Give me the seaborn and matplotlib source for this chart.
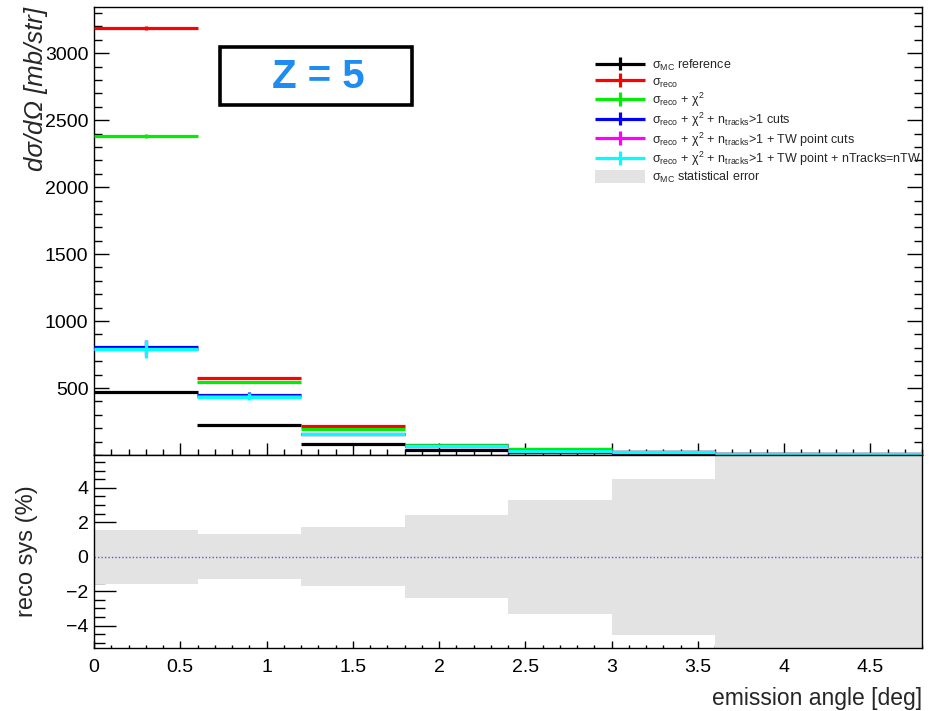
import numpy as np
import matplotlib
matplotlib.use("Agg")
import matplotlib.pyplot as plt
import seaborn as sns
from matplotlib.ticker import MultipleLocator, FixedLocator
from matplotlib.patches import Rectangle
from matplotlib.legend_handler import HandlerErrorbar
from matplotlib.container import ErrorbarContainer

# ---------------- data ----------------
bin_edges = [0.0, 0.6, 1.2, 1.8, 2.4, 3.0, 3.6, 4.2, 4.8]
ref_vals   = [470, 224, 82, 37, 20, 8, 4, 2]
ref_err    = [6, 4, 2, 1, 1, 1, 1, 1]
reco_vals  = [3190, 572, 214, 77, 45, 22, 10, 5]
reco_err   = [15, 8, 4, 2, 1, 1, 1, 1]
chi2_vals  = [2385, 542, 196, 77, 45, 22, 10, 5]
chi2_err   = [15, 8, 4, 2, 1, 1, 1, 1]
ntr_vals   = [806, 450, 157, 67, 30, 20, 10, 5]
ntr_err    = [45, 22, 6, 2, 1, 1, 1, 1]
tw_vals    = [795, 440, 157, 67, 30, 20, 10, 5]
tw_err     = [60, 25, 6, 2, 1, 1, 1, 1]
twn_vals   = [791, 435, 157, 67, 30, 20, 10, 5]
twn_err    = [65, 25, 6, 2, 1, 1, 1, 1]
stat_err_pct = [1.57, 1.32, 1.72, 2.40, 3.30, 4.52, 8.0, 8.0]

S = r"$\mathrm{\sigma}_{\rm reco}$"
C = r"$\mathrm{\chi}^{2}$"
labels = [
    r"$\mathrm{\sigma}_{\rm MC}$ reference",
    S,
    S + " + " + C,
    S + " + " + C + r" + n$_{\rm tracks}$>1 cuts",
    S + " + " + C + r" + n$_{\rm tracks}$>1 + TW point cuts",
    S + " + " + C + r" + n$_{\rm tracks}$>1 + TW point + nTracks=nTW",
]
stat_label = r"$\mathrm{\sigma}_{\rm MC}$ statistical error"
colors = ["#000000", "#ff0000", "#00ee00", "#0000ff", "#ff00ff", "#00ffff"]

# ---------------- style ----------------
sns.set_theme(style="ticks")
plt.rcParams["font.family"] = ["Liberation Sans", "DejaVu Sans"]
plt.rcParams["mathtext.fontset"] = "custom"
plt.rcParams["mathtext.rm"] = "Liberation Sans"
plt.rcParams["mathtext.it"] = "Liberation Sans:italic"
plt.rcParams["mathtext.bf"] = "Liberation Sans:bold"

W, H = 934, 711
fig = plt.figure(figsize=(W / 100, H / 100), dpi=100)
fig.patch.set_facecolor("white")

def fbox(x0, y0, x1, y1):
    return [x0 / W, 1 - y1 / H, (x1 - x0) / W, (y1 - y0) / H]

ax = fig.add_axes(fbox(94, 7, 922, 455))
axr = fig.add_axes(fbox(94, 455, 922, 648))
for a in (ax, axr):
    a.set_facecolor("white")
    for s in a.spines.values():
        s.set_color("black")
        s.set_linewidth(1.0)

edges = np.array(bin_edges)
centers = 0.5 * (edges[:-1] + edges[1:])
halfw = 0.5 * (edges[1:] - edges[:-1])

series = [
    (ref_vals, ref_err), (reco_vals, reco_err), (chi2_vals, chi2_err),
    (ntr_vals, ntr_err), (tw_vals, tw_err), (twn_vals, twn_err),
]
handles = []
for (vals, err), col, lab in zip(series, colors, labels):
    h = ax.errorbar(centers, vals, xerr=halfw, yerr=err, fmt="none",
                    ecolor=col, elinewidth=2.3, capsize=0, label=lab, zorder=3)
    handles.append(h)

stat_patch = Rectangle((0, 0), 1, 1, facecolor="#e3e3e3", edgecolor="none")
handles.append(stat_patch)

ax.set_xlim(0, 4.8)
ax.set_ylim(0, 3345)
ax.yaxis.set_major_locator(FixedLocator([500, 1000, 1500, 2000, 2500, 3000]))
ax.yaxis.set_minor_locator(MultipleLocator(100))
ax.xaxis.set_major_locator(MultipleLocator(0.5))
ax.xaxis.set_minor_locator(MultipleLocator(0.1))
ax.tick_params(axis="both", which="both", direction="in", colors="black")
ax.tick_params(axis="y", which="major", length=11, width=1, left=True, right=True, labelsize=14, pad=4)
ax.tick_params(axis="y", which="minor", length=6, width=1, left=True, right=True)
ax.tick_params(axis="x", which="major", length=9, width=1, labelbottom=False)
ax.tick_params(axis="x", which="minor", length=4.5, width=1)
ax.set_ylabel("dσ/dΩ [mb/str]", fontsize=18.5, fontstyle="italic", loc="top")
ax.yaxis.set_label_coords(-0.056, 1.0)

hmap = {ErrorbarContainer: HandlerErrorbar(xerr_size=2.0, yerr_size=0.55)}
leg = ax.legend(handles, labels + [stat_label], loc="upper left",
                bbox_to_anchor=((595 - 94) / 828, 1 - (58 - 7) / 448),
                frameon=False, fontsize=9, handlelength=4.0, handletextpad=0.55,
                handleheight=1.25, labelspacing=0.12, borderpad=0,
                borderaxespad=0, handler_map=hmap)
for t in leg.get_texts():
    t.set_clip_on(True)
    t.set_clip_box(ax.bbox)

# Z label box
fig.patches.append(Rectangle((220 / W, 1 - 105 / H), 192 / W, 58 / H,
                             transform=fig.transFigure, fill=False,
                             edgecolor="black", linewidth=2.6))
fig.text(318 / W, 1 - 77 / H, "Z = 5", color="#1e8cf0", fontsize=29,
         fontweight="bold", ha="center", va="center")

# ---------------- ratio panel ----------------
err = np.array(stat_err_pct)
x_step = np.repeat(edges, 2)[1:-1]
up = np.repeat(err, 2)
axr.fill_between(x_step, -up, up, color="#e3e3e3", linewidth=0, zorder=1)
sns.lineplot(x=[0, 4.8], y=[0, 0], ax=axr, color="#5a5ad0", linestyle=(0, (1, 1.5)),
             linewidth=1.0, zorder=2)

axr.set_xlim(0, 4.8)
axr.set_ylim(-5.3, 5.9)
axr.yaxis.set_major_locator(FixedLocator([-4, -2, 0, 2, 4]))
axr.yaxis.set_minor_locator(MultipleLocator(0.5))
axr.xaxis.set_major_locator(MultipleLocator(0.5))
axr.xaxis.set_minor_locator(MultipleLocator(0.1))
axr.tick_params(axis="both", which="both", direction="in", colors="black")
axr.tick_params(axis="y", which="major", length=16, width=1, labelsize=14, pad=4)
axr.tick_params(axis="y", which="minor", length=8, width=1)
axr.tick_params(axis="x", which="major", length=5, width=1, labelsize=14, pad=8)
axr.tick_params(axis="x", which="minor", length=2.5, width=1)
axr.set_xticks([0, 0.5, 1, 1.5, 2, 2.5, 3, 3.5, 4, 4.5])
axr.set_xticklabels(["0", "0.5", "1", "1.5", "2", "2.5", "3", "3.5", "4", "4.5"])
axr.set_ylabel("reco sys (%)", fontsize=17)
axr.yaxis.set_label_coords(-0.068, 0.5)
axr.set_xlabel("emission angle [deg]", fontsize=16.5, loc="right")
axr.xaxis.set_label_coords(1.0, -0.2)

fig.savefig("out.png", dpi=100, facecolor="white")
